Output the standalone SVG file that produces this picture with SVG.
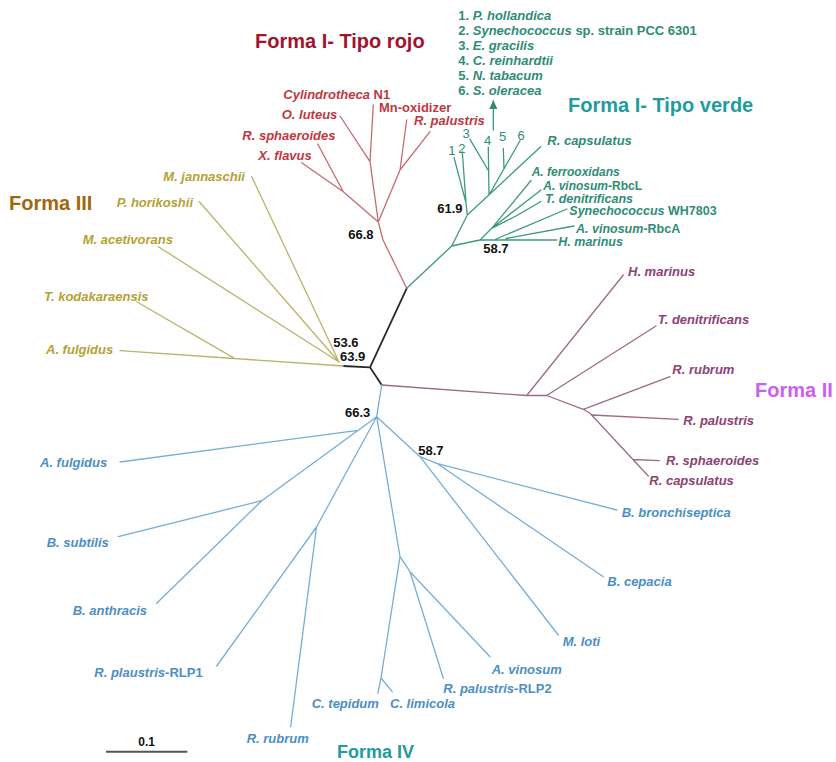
<svg xmlns="http://www.w3.org/2000/svg" width="836" height="762" viewBox="0 0 836 762">
<defs>
<style>
text{font-family:"Liberation Sans",Arial,Helvetica,sans-serif;font-weight:bold;font-size:13px;font-style:italic}
.u{font-style:normal}
.br{fill:none;stroke-width:1.3;stroke-linecap:round;stroke-linejoin:round}
.lr{stroke:#c86a70}.lg{stroke:#3d9a80}.ly{stroke:#bab36a}.lp{stroke:#9c6a88}.lb{stroke:#76aed6}.lk{stroke:#2a2a2a;stroke-width:1.8}
.tr{fill:#c0383f}.tg{fill:#2f8c76}.ty{fill:#b3a235}.tp{fill:#8c4273}.tb{fill:#4d8ec6}
.sm{font-size:12.5px}
.xs{font-size:12px}
.num{fill:#111;font-style:normal}
.gnum{fill:#2f8c76;font-style:normal;font-weight:normal;font-size:13px}
.forma{font-style:normal;font-size:20px}
</style>
<marker id="arr" viewBox="0 0 9 8" refX="8" refY="4" markerWidth="9" markerHeight="8" orient="auto" markerUnits="userSpaceOnUse">
<path d="M0,0 L9,4 L0,8 Z" fill="#2f8c76"/>
</marker>
</defs>
<rect width="836" height="762" fill="#ffffff"/>

<g id="connectors">
<!-- central -->
<path class="br lk" d="M406.7,288.3 L370,367.3 M343.3,366 L370,367.3 L381.7,385"/>
<!-- red -->
<path class="br lr" d="M406.7,288.3 L383,240 L378.3,222 M378.3,222 L343.3,191.7 L301.7,162.7 M343.3,191.7 L317.7,144 M378.3,222 L370,161.7 L373.3,105 M370,161.7 L340,116 M378.3,222 L400,170 L406.7,120 M400,170 L430,131.7"/>
<!-- green -->
<path class="br lg" d="M406.7,288.3 L451.7,246 L467.3,215 L540.7,146.7 M467.3,215 L466,203 L454,157.3 M466,203 L462.3,151.7 M489,195 L488.3,147 M488.6,171 L470,139.3 M489,195 L520,140.7 M504,168.5 L503.3,148.3 M451.7,246 L480,240 L556.7,240 M480,240 L491.7,228.3 L531,180.5 M491.7,228.3 L541,190 M491.7,228.3 L516,216 L541,201.5 M496,239 L567,209 M506,238.5 L574,226"/>
<path class="br lg" d="M493.3,130 L493.3,101" marker-end="url(#arr)"/>
<!-- yellow -->
<path class="br ly" d="M343.3,366 L120,350.7 M235,358.6 L136.7,301.7 M339,362 L158.3,246.7 M339,362 L199.3,201.7 M339,362 L251.7,176.7"/>
<!-- purple -->
<path class="br lp" d="M381.7,385 L526.7,395.5 L546.7,395.5 M526.7,395.5 L623.3,275 M546.7,395.5 L656,326 M546.7,395.5 L583.3,409.3 L670,376.7 M583.3,409.3 L590,413.3 L648.3,476 M592,415 L678.3,419.3 M633,459.5 L659.3,460.7"/>
<!-- blue -->
<path class="br lb" d="M381.7,385 L376.7,416.7 M376.7,416.7 L261.7,500.7 L156.7,603.3 M261.7,500.7 L118.3,536.7 M358,430.4 L120,462 M376.7,416.7 L316.5,527 L216.7,666 M316.5,527 L290.7,726.7 M376.7,416.7 L400,556.7 L381,678 L377.8,693.3 M381,678 L392.2,691.7 M400,556.7 L410,571.7 L490,656.7 M410,571.7 L443.3,678.3 M376.7,416.7 L420,456.7 L558.3,635 M420,456.7 L436.7,463.3 L616.7,510 M436.7,463.3 L603.3,576.7"/>
<!-- scale bar -->
<path d="M106,751.7 L187.3,751.7" stroke="#555" stroke-width="2"/>
</g>

<g id="titles">
<text class="forma" x="255" y="48" fill="#a3122e">Forma I- Tipo rojo</text>
<text class="forma" x="568" y="112" fill="#1e9c9e">Forma I- Tipo verde</text>
<text class="forma" x="9" y="210" fill="#a0680e">Forma III</text>
<text class="forma" x="755" y="396.5" fill="#cc5ef0">Forma II</text>
<text class="forma" x="337" y="758" fill="#1e9c9e" style="font-size:18px">Forma IV</text>
</g>

<g id="legend" class="tg">
<text x="458.3" y="19.5"><tspan class="u">1. </tspan>P. hollandica</text>
<text x="458.3" y="34.5"><tspan class="u">2. </tspan>Synechococcus<tspan class="u"> sp. strain PCC 6301</tspan></text>
<text x="458.3" y="49.5"><tspan class="u">3. </tspan>E. gracilis</text>
<text x="458.3" y="64.5"><tspan class="u">4. </tspan>C. reinhardtii</text>
<text x="458.3" y="79.5"><tspan class="u">5. </tspan>N. tabacum</text>
<text x="458.3" y="94.5"><tspan class="u">6. </tspan>S. oleracea</text>
</g>

<!-- red leaves -->
<g id="r-cylindrotheca"><text class="tr" x="283.3" y="99.3">Cylindrotheca<tspan class="u"> N1</tspan></text></g>
<g id="r-oluteus"><text class="tr" x="281.7" y="119">O. luteus</text></g>
<g id="r-rsphaeroides"><text class="tr" x="242.3" y="140">R. sphaeroides</text></g>
<g id="r-xflavus"><text class="tr" x="258.3" y="159.5">X. flavus</text></g>
<g id="r-mnoxidizer"><text class="tr u" x="379" y="112">Mn-oxidizer</text></g>
<g id="r-rpalustris"><text class="tr" x="414" y="124.7">R. palustris</text></g>

<!-- green leaves -->
<g id="g-n1"><text class="gnum" x="448.3" y="155">1</text></g>
<g id="g-n2"><text class="gnum" x="458.3" y="153">2</text></g>
<g id="g-n3"><text class="gnum" x="462.5" y="138.3">3</text></g>
<g id="g-n4"><text class="gnum" x="484" y="145">4</text></g>
<g id="g-n5"><text class="gnum" x="499" y="141">5</text></g>
<g id="g-n6"><text class="gnum" x="517.5" y="140">6</text></g>
<g id="g-rcapsulatus"><text class="tg" x="547.3" y="144.5">R. capsulatus</text></g>
<g id="g-aferrooxidans"><text class="tg xs" x="531.7" y="176">A. ferrooxidans</text></g>
<g id="g-avinosumrbcl"><text class="tg xs" x="543.3" y="189.5">A. vinosum<tspan class="u">-RbcL</tspan></text></g>
<g id="g-tdenitrificans"><text class="tg sm" x="545" y="202.5">T. denitrificans</text></g>
<g id="g-synechococcus"><text class="tg sm" x="569.3" y="215">Synechococcus<tspan class="u"> WH7803</tspan></text></g>
<g id="g-avinosumrbca"><text class="tg sm" x="576" y="232.5">A. vinosum<tspan class="u">-RbcA</tspan></text></g>
<g id="g-hmarinus"><text class="tg sm" x="558.3" y="245.5">H. marinus</text></g>

<!-- yellow leaves -->
<g id="y-mjannaschii"><text class="ty" x="163.3" y="180.5">M. jannaschii</text></g>
<g id="y-phorikoshii"><text class="ty" x="116.7" y="207">P. horikoshii</text></g>
<g id="y-macetivorans"><text class="ty" x="82.7" y="244">M. acetivorans</text></g>
<g id="y-tkodakaraensis"><text class="ty" x="44" y="300.5">T. kodakaraensis</text></g>
<g id="y-afulgidus"><text class="ty" x="46" y="354">A. fulgidus</text></g>

<!-- purple leaves -->
<g id="p-hmarinus"><text class="tp" x="628" y="275.5">H. marinus</text></g>
<g id="p-tdenitrificans"><text class="tp" x="657.7" y="323.5">T. denitrificans</text></g>
<g id="p-rrubrum"><text class="tp" x="672.3" y="373.5">R. rubrum</text></g>
<g id="p-rpalustris"><text class="tp" x="683.3" y="424.5">R. palustris</text></g>
<g id="p-rsphaeroides"><text class="tp" x="666" y="465">R. sphaeroides</text></g>
<g id="p-rcapsulatus"><text class="tp" x="649.3" y="485">R. capsulatus</text></g>

<!-- blue leaves -->
<g id="b-afulgidus"><text class="tb" x="40" y="467">A. fulgidus</text></g>
<g id="b-bsubtilis"><text class="tb" x="46.7" y="547">B. subtilis</text></g>
<g id="b-banthracis"><text class="tb" x="72.7" y="614.5">B. anthracis</text></g>
<g id="b-rlp1"><text class="tb" x="94.3" y="677">R. plaustris<tspan class="u">-RLP1</tspan></text></g>
<g id="b-rrubrum"><text class="tb" x="246.7" y="743">R. rubrum</text></g>
<g id="b-ctepidum"><text class="tb" x="311.7" y="708">C. tepidum</text></g>
<g id="b-climicola"><text class="tb" x="390" y="708">C. limicola</text></g>
<g id="b-rlp2"><text class="tb" x="443.3" y="693">R. palustris<tspan class="u">-RLP2</tspan></text></g>
<g id="b-avinosum"><text class="tb" x="491.7" y="673.5">A. vinosum</text></g>
<g id="b-mloti"><text class="tb" x="562.7" y="646">M. loti</text></g>
<g id="b-bcepacia"><text class="tb" x="607.3" y="586">B. cepacia</text></g>
<g id="b-bbronchiseptica"><text class="tb" x="621.7" y="517">B. bronchiseptica</text></g>

<!-- bootstrap values -->
<g id="boot">
<text class="num" x="348.3" y="238.5">66.8</text>
<text class="num" x="437.3" y="213">61.9</text>
<text class="num" x="483.3" y="253">58.7</text>
<text class="num" x="333.3" y="347">53.6</text>
<text class="num" x="340" y="361">63.9</text>
<text class="num" x="345" y="417">66.3</text>
<text class="num" x="418.3" y="454.5">58.7</text>
</g>
<g id="scale"><text class="num" x="138.3" y="746" style="font-size:12px">0.1</text></g>
</svg>
